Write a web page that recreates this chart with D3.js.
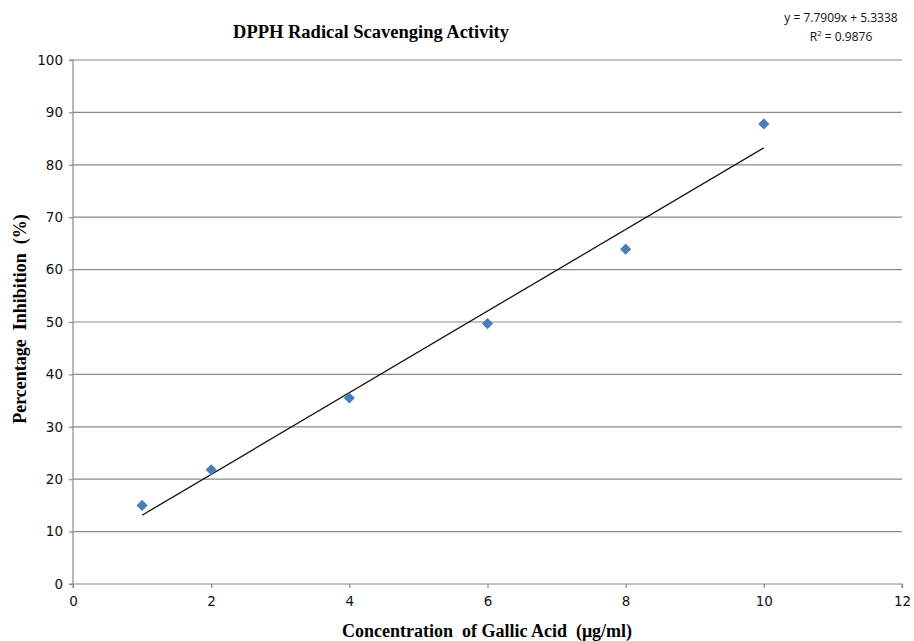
<!DOCTYPE html>
<html><head><meta charset="utf-8">
<script src="https://cdn.jsdelivr.net/npm/d3@7"></script>
<style>body{margin:0;background:#fff}</style>
</head><body>
<svg id="c" width="914" height="641"></svg>
<script>
const concentrations = [1, 2, 4, 6, 8, 10];
const inhibition = [15.0, 21.8, 35.5, 49.7, 63.9, 87.8];
const slope = 7.7909, intercept = 5.3338, r2 = 0.9876;
const xTicks = [0, 2, 4, 6, 8, 10, 12];
const yTicks = [0, 10, 20, 30, 40, 50, 60, 70, 80, 90, 100];

const svg = d3.select("#c");
const L = 73, R = 902, T = 60, B = 584;
const x = d3.scaleLinear().domain([0, 12]).range([L, R]);
const y = d3.scaleLinear().domain([0, 100]).range([B, T]);
const grey = "#8a8a8a";

// gridlines
svg.append("g").selectAll("line").data(yTicks.filter(d => d > 0)).join("line")
  .attr("x1", L).attr("x2", R).attr("y1", d => y(d)).attr("y2", d => y(d))
  .attr("stroke", grey).attr("stroke-width", 1.2);

// axes
const yAxis = svg.append("g").attr("transform", `translate(${L},0)`)
  .call(d3.axisLeft(y).tickValues(yTicks).tickSize(4).tickPadding(6));
const xAxis = svg.append("g").attr("transform", `translate(0,${B})`)
  .call(d3.axisBottom(x).tickValues(xTicks).tickSize(4).tickPadding(8));
[yAxis, xAxis].forEach(g => {
  g.selectAll("path, line").attr("stroke", grey).attr("stroke-width", 1.2);
  g.selectAll("text").attr("font-family", "DejaVu Sans, Verdana, sans-serif")
    .attr("font-size", 13.5).attr("fill", "#111");
});
yAxis.select(".domain").attr("d", `M${-4},${B}H0V${T}H-4`);
xAxis.select(".domain").attr("d", `M${L},4V0H${R}V4`);

// trendline
svg.append("line")
  .attr("x1", x(1)).attr("y1", y(slope * 1 + intercept))
  .attr("x2", x(10)).attr("y2", y(slope * 10 + intercept))
  .attr("stroke", "#111").attr("stroke-width", 1.3);

// markers
svg.append("g").selectAll("path").data(concentrations).join("path")
  .attr("d", d3.symbol(d3.symbolDiamond2, 80))
  .attr("transform", (d, i) => `translate(${x(d)},${y(inhibition[i])})`)
  .attr("fill", "#4a7ebb");

// title
svg.append("text").attr("x", 371).attr("y", 38).attr("text-anchor", "middle")
  .attr("font-family", "Liberation Serif, Times New Roman, serif").attr("font-weight", "bold")
  .attr("font-size", 18.5).text("DPPH Radical Scavenging Activity");

// equation
const eq = svg.append("text").attr("text-anchor", "middle")
  .attr("font-family", "Open Sans, Liberation Sans, sans-serif").attr("font-size", 12).attr("fill", "#111");
eq.append("tspan").attr("x", 841).attr("y", 22).text(`y = ${slope}x + ${intercept}`);
const t2 = eq.append("tspan").attr("x", 841).attr("y", 41).text("R");
t2.append("tspan").attr("font-size", 8).attr("dy", -5).text("2");
t2.append("tspan").attr("dy", 5).text(` = ${r2}`);

// axis labels
svg.append("text").attr("x", 487).attr("y", 637).attr("text-anchor", "middle")
  .attr("font-family", "Liberation Serif, Times New Roman, serif").attr("font-weight", "bold")
  .attr("font-size", 18).style("white-space", "pre").text("Concentration  of Gallic Acid  (μg/ml)");
svg.append("text").attr("transform", `translate(26,${(T + B) / 2 - 3}) rotate(-90)`).attr("text-anchor", "middle")
  .attr("font-family", "Liberation Serif, Times New Roman, serif").attr("font-weight", "bold")
  .attr("font-size", 18).style("white-space", "pre").text("Percentage  Inhibition  (%)");
</script>
</body></html>
